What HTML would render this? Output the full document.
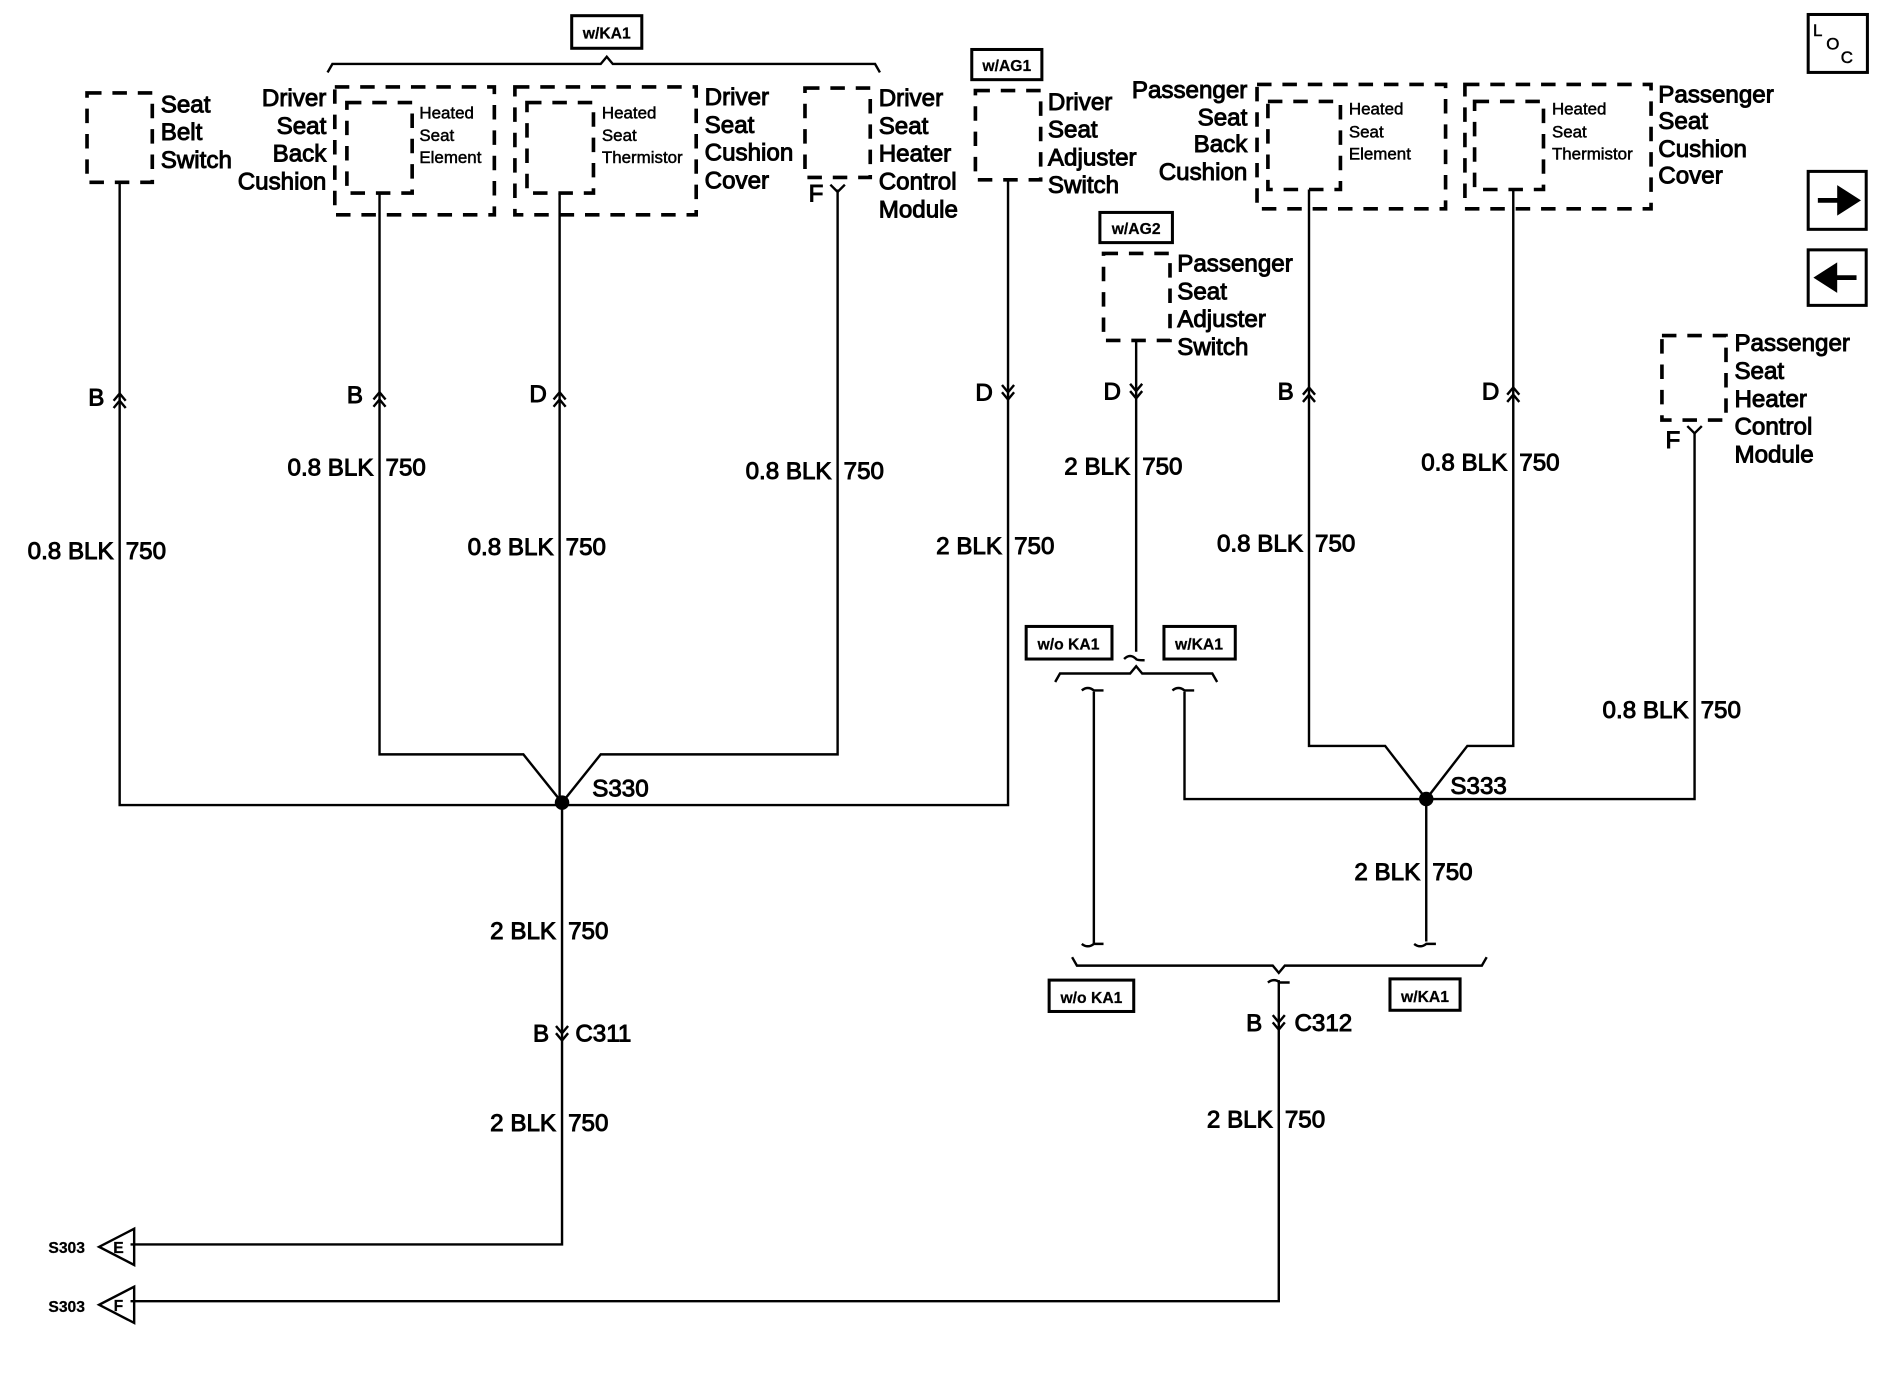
<!DOCTYPE html>
<html><head><meta charset="utf-8"><style>
html,body{margin:0;padding:0;background:#fff;}
svg{display:block}
text{font-family:"Liberation Sans",Arial,sans-serif;font-size:20px;fill:#000;stroke:#000;stroke-width:0.8}
.s{font-size:14px;stroke-width:0.4}
.b{font-size:13px;font-weight:bold;stroke-width:0.2}
.w{fill:none;stroke:#000;stroke-width:2}
.d{fill:none;stroke:#000;stroke-width:3;stroke-dasharray:12 9}
</style></head><body>
<svg width="1894" height="1376" viewBox="0 0 1567 1140" preserveAspectRatio="none" xmlns="http://www.w3.org/2000/svg">
<rect class="d" x="72" y="77" width="54" height="74"/>
<rect class="d" x="277" y="72" width="132" height="106"/>
<rect class="d" x="287" y="85" width="54" height="75"/>
<rect class="d" x="426" y="72" width="150" height="106"/>
<rect class="d" x="436" y="85" width="55" height="75"/>
<rect class="d" x="666" y="73" width="54" height="74"/>
<rect class="d" x="807" y="75" width="54" height="74"/>
<rect class="d" x="913" y="210" width="55" height="72"/>
<rect class="d" x="1040" y="70" width="156" height="103"/>
<rect class="d" x="1049" y="84" width="60" height="73"/>
<rect class="d" x="1212" y="70" width="154" height="103"/>
<rect class="d" x="1220" y="84" width="57" height="73"/>
<rect class="d" x="1375" y="278" width="53" height="70"/>
<text x="133" y="93">Seat</text><text x="133" y="116">Belt</text><text x="133" y="139">Switch</text>
<g text-anchor="end"><text x="270" y="88">Driver</text><text x="270" y="111">Seat</text><text x="270" y="134">Back</text><text x="270" y="157">Cushion</text></g>
<text class="s" x="347" y="98">Heated</text><text class="s" x="347" y="117">Seat</text><text class="s" x="347" y="135">Element</text>
<text class="s" x="498" y="98">Heated</text><text class="s" x="498" y="117">Seat</text><text class="s" x="498" y="135">Thermistor</text>
<text x="583" y="87">Driver</text><text x="583" y="110">Seat</text><text x="583" y="133">Cushion</text><text x="583" y="156">Cover</text>
<text x="727" y="88">Driver</text><text x="727" y="111">Seat</text><text x="727" y="134">Heater</text><text x="727" y="157">Control</text><text x="727" y="180">Module</text>
<text x="867" y="91">Driver</text><text x="867" y="114">Seat</text><text x="867" y="137">Adjuster</text><text x="867" y="160">Switch</text>
<g text-anchor="end"><text x="1032" y="81">Passenger</text><text x="1032" y="104">Seat</text><text x="1032" y="126">Back</text><text x="1032" y="149">Cushion</text></g>
<text class="s" x="1116" y="95">Heated</text><text class="s" x="1116" y="114">Seat</text><text class="s" x="1116" y="132">Element</text>
<text class="s" x="1284" y="95">Heated</text><text class="s" x="1284" y="114">Seat</text><text class="s" x="1284" y="132">Thermistor</text>
<text x="1372" y="85">Passenger</text><text x="1372" y="107">Seat</text><text x="1372" y="130">Cushion</text><text x="1372" y="152">Cover</text>
<text x="974" y="225">Passenger</text><text x="974" y="248">Seat</text><text x="974" y="271">Adjuster</text><text x="974" y="294">Switch</text>
<text x="1435" y="291">Passenger</text><text x="1435" y="314">Seat</text><text x="1435" y="337">Heater</text><text x="1435" y="360">Control</text><text x="1435" y="383">Module</text>
<g class="w" style="stroke-width:2.5">
<rect x="473" y="13" width="58" height="27"/><rect x="804" y="41" width="58" height="25"/><rect x="910" y="176" width="60" height="25"/>
<rect x="849" y="519" width="71" height="27"/><rect x="963" y="519" width="59" height="27"/>
<rect x="868" y="812" width="70" height="26"/><rect x="1150" y="811" width="58" height="26"/>
<rect x="1496" y="12" width="49" height="48"/><rect x="1496" y="142" width="48" height="48"/><rect x="1496" y="207" width="48" height="46"/>
</g>
<text class="b" x="502" y="32" text-anchor="middle">w/KA1</text>
<text class="b" x="833" y="59" text-anchor="middle">w/AG1</text>
<text class="b" x="940" y="194" text-anchor="middle">w/AG2</text>
<text class="b" x="884" y="538" text-anchor="middle">w/o KA1</text>
<text class="b" x="992" y="538" text-anchor="middle">w/KA1</text>
<text class="b" x="903" y="831" text-anchor="middle">w/o KA1</text>
<text class="b" x="1179" y="830" text-anchor="middle">w/KA1</text>
<text class="s" x="1500" y="30">L</text><text class="s" x="1511" y="41">O</text><text class="s" x="1523" y="52">C</text>
<path d="M1504 166 h18 v-9 l14 9 l-14 9 v-9" fill="#000" stroke="#000" stroke-width="4"/>
<path d="M1536 230 h-18 v-9 l-14 9 l14 9 v-9" fill="#000" stroke="#000" stroke-width="4"/>
<path class="w" d="M271 60 l4 -7 H497 l5 -6 l5 6 H724 l4 7"/>
<path class="w" d="M873 565 l4 -7 H935 l5 -6 l5 6 H1003 l4 7"/>
<path class="w" d="M887 793 l4 7 H1053 l5 6 l5 -6 H1226 l4 -7"/>
<path class="w" d="M930 546 q5 -5 10 0 q0 1 7 1"/>
<g class="w">
<path d="M99 151 V667 H834 V149"/>
<path d="M314 160 V625 H433 L465 665 L497 625 H693 V157"/>
<path d="M463 160 V665"/>
<path d="M465 665 V1031 H108"/>
<path d="M940 282 V540"/>
<path d="M905 573 V782"/>
<path d="M980 573 V662 H1402 V358"/>
<path d="M1083 157 V618 H1146 L1180 662 L1214 618 H1252 V157"/>
<path d="M1180 662 V780"/>
<path d="M1058 812 V1078 H108"/>
<path d="M895 572 q5 -4 10 0 h8"/><path d="M895 782 q5 4 10 0 h8"/>
<path d="M970 572 q5 -4 10 0 h8"/><path d="M1170 782 q5 4 10 0 h8"/>
<path d="M1049 814 q5 -4 10 0 h8"/>
<path d="M94 332 l5 -6 l5 6 M94 338 l5 -6 l5 6"/>
<path d="M309 331 l5 -6 l5 6 M309 337 l5 -6 l5 6"/>
<path d="M458 331 l5 -6 l5 6 M458 337 l5 -6 l5 6"/>
<path d="M1078 327 l5 -6 l5 6 M1078 333 l5 -6 l5 6"/>
<path d="M1247 327 l5 -6 l5 6 M1247 333 l5 -6 l5 6"/>
<path d="M829 319 l5 6 l5 -6 M829 325 l5 6 l5 -6"/>
<path d="M935 318 l5 6 l5 -6 M935 324 l5 6 l5 -6"/>
<path d="M460 850 l5 6 l5 -6 M460 856 l5 6 l5 -6"/>
<path d="M1053 841 l5 6 l5 -6 M1053 847 l5 6 l5 -6"/>
<path d="M687 153 l6 6 l6 -6"/><path d="M1396 353 l6 6 l6 -6"/>
<path d="M111 1018 V1048 L82 1033 Z"/><path d="M111 1066 V1096 L82 1081 Z"/>
</g>
<circle cx="465" cy="665" r="6"/><circle cx="1180" cy="662" r="6"/>
<text x="490" y="660">S330</text><text x="1200" y="658">S333</text>
<text class="b" x="98" y="1038" text-anchor="middle">E</text><text class="b" x="98" y="1086" text-anchor="middle">F</text>
<text class="b" x="40" y="1038">S303</text><text class="b" x="40" y="1087">S303</text>
<text x="73" y="336">B</text><text x="287" y="334">B</text><text x="438" y="333">D</text>
<text x="807" y="332">D</text><text x="913" y="331">D</text><text x="1057" y="331">B</text><text x="1226" y="331">D</text>
<text x="669" y="167">F</text><text x="1378" y="371">F</text>
<text x="441" y="863">B</text><text x="476" y="863">C311</text>
<text x="1031" y="854">B</text><text x="1071" y="854">C312</text>
<g text-anchor="end">
<text x="94" y="463">0.8 BLK</text><text x="309" y="394">0.8 BLK</text><text x="458" y="460">0.8 BLK</text>
<text x="688" y="397">0.8 BLK</text><text x="829" y="459">2 BLK</text><text x="935" y="393">2 BLK</text>
<text x="1078" y="457">0.8 BLK</text><text x="1247" y="390">0.8 BLK</text><text x="1397" y="595">0.8 BLK</text>
<text x="1175" y="729">2 BLK</text><text x="460" y="778">2 BLK</text><text x="460" y="937">2 BLK</text><text x="1053" y="934">2 BLK</text>
</g>
<text x="104" y="463">750</text><text x="319" y="394">750</text><text x="468" y="460">750</text>
<text x="698" y="397">750</text><text x="839" y="459">750</text><text x="945" y="393">750</text>
<text x="1088" y="457">750</text><text x="1257" y="390">750</text><text x="1407" y="595">750</text>
<text x="1185" y="729">750</text><text x="470" y="778">750</text><text x="470" y="937">750</text><text x="1063" y="934">750</text>
</svg>
</body></html>
